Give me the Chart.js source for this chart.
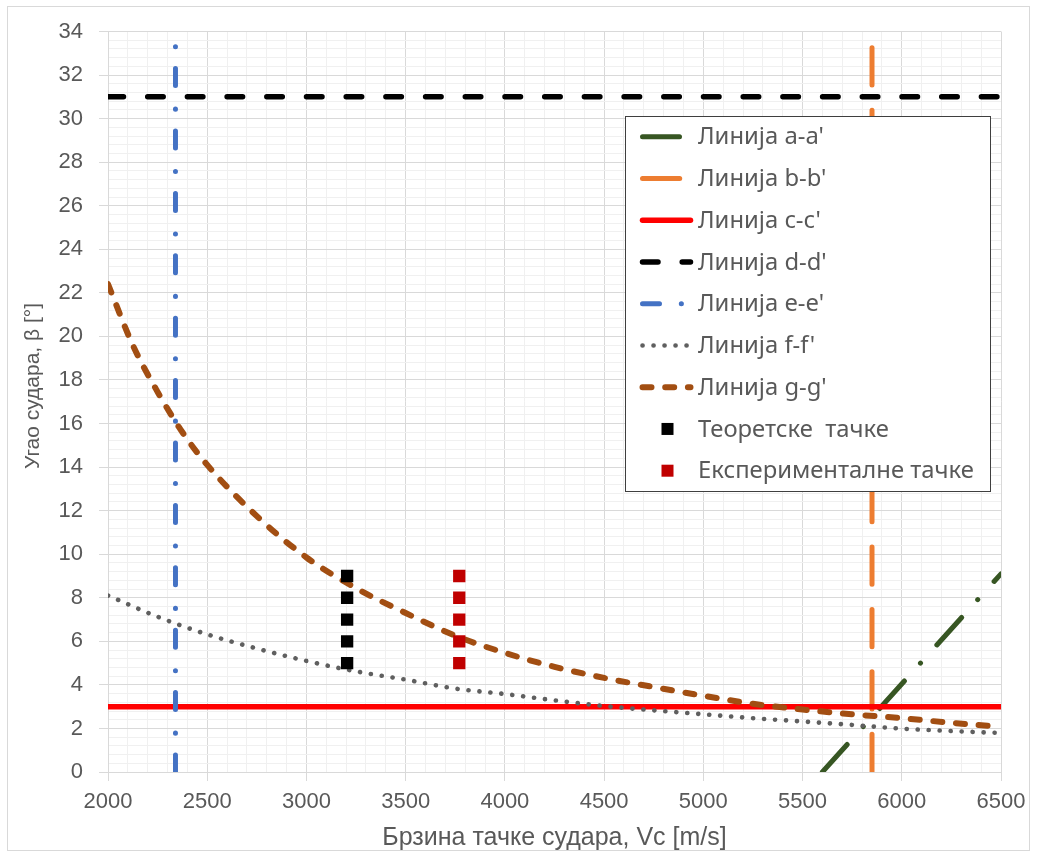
<!DOCTYPE html>
<html>
<head>
<meta charset="utf-8">
<script src="https://cdn.jsdelivr.net/npm/chart.js@4.4.1/dist/chart.umd.min.js"></script>
<style>
  html, body { margin: 0; padding: 0; background: #ffffff; }
  #wrap { width: 1037px; height: 857px; }
</style>
</head>
<body>
<div id="wrap"><canvas id="c" width="1037" height="857"></canvas></div>
<script>
// ---- data ----
const seriesNames = ["Линија a-a'", "Линија b-b'", "Линија c-c'", "Линија d-d'", "Линија e-e'", "Линија f-f'", "Линија g-g'", "Теоретске  тачке", "Експерименталне тачке"];
const xTitle = 'Брзина тачке судара, Vc [m/s]';
const yTitle = 'Угао судара, β [°]';

const aSpeed = [5600, 6500];
const aAngle = [0, 9.1];
const bSpeed = [5850, 5850];
const bAngle = [33.25, 0];
const cSpeed = [2000, 6500];
const cAngle = [3, 3];
const dSpeed = [2000, 6500];
const dAngle = [31, 31];
const eSpeed = [2340, 2340];
const eAngle = [0, 33.35];

const fSpeed = [2000, 2250, 2500, 2750, 3000, 3250, 3500, 3750, 4000, 4250, 4500, 4750, 5000, 5250, 5500, 5750, 6000, 6250, 6500];
const fAngle = [8.1, 7.13, 6.32, 5.67, 5.1, 4.62, 4.24, 3.83, 3.58, 3.29, 3.03, 2.83, 2.65, 2.47, 2.32, 2.16, 1.99, 1.88, 1.79];

const gSpeed = [2000, 2125, 2250, 2375, 2500, 2750, 3000, 3250, 3500, 3750, 4000, 4250, 4500, 4750, 5000, 5250, 5500, 5750, 6000, 6250, 6500];
const gAngle = [22.4, 19.6, 17.45, 15.6, 14.1, 11.75, 9.85, 8.44, 7.3, 6.26, 5.47, 4.83, 4.32, 3.9, 3.5, 3.13, 2.87, 2.65, 2.47, 2.26, 2.08];

const theorySpeed = [3205, 3205, 3205, 3205, 3205];
const theoryAngle = [5, 6, 7, 8, 9];
const expSpeed = [3770, 3770, 3770, 3770, 3770];
const expAngle = [5, 6, 7, 8, 9];

const xMin = 2000, xMax = 6500, xMajor = 500, xMinor = 100;
const yMin = 0, yMax = 34, yMajor = 2, yMinor = 0.4;

// ---- helpers ----
const pts = (xs, ys) => xs.map((x, i) => ({ x: x, y: ys[i] }));
const isMajor = (v, step) => Math.abs(v / step - Math.round(v / step)) < 1e-6;
const TEXT = '#595959';
const MAJOR_GRID = '#d9d9d9';
const MINOR_GRID = '#f0f0f0';

function lineDs(i, xs, ys, color, width, dash, extra) {
  return Object.assign({
    label: seriesNames[i],
    data: pts(xs, ys),
    showLine: true,
    borderColor: color,
    backgroundColor: color,
    borderWidth: width,
    borderDash: dash,
    borderCapStyle: 'round',
    borderJoinStyle: 'round',
    pointRadius: 0,
    pointHoverRadius: 0,
    fill: false,
    order: 20 - i
  }, extra || {});
}

const datasets = [
  lineDs(0, aSpeed, aAngle, '#375623', 5, [37, 24, 0.1, 24.4]),
  lineDs(1, bSpeed, bAngle, '#ED7D31', 5, [37.2, 25.2]),
  lineDs(2, cSpeed, cAngle, '#FF0000', 5.5, []),
  lineDs(3, dSpeed, dAngle, '#000000', 5.5, [15.5, 24.2]),
  lineDs(4, eSpeed, eAngle, '#4472C4', 5, [17, 21.8, 0.1, 23.5]),
  lineDs(5, fSpeed, fAngle, '#5f5f5f', 4.6, [0.1, 10.9], { cubicInterpolationMode: 'monotone' }),
  lineDs(6, gSpeed, gAngle, '#A24E12', 6, [9, 13.7], { cubicInterpolationMode: 'monotone' }),
  {
    label: seriesNames[7], data: pts(theorySpeed, theoryAngle), showLine: false,
    pointStyle: 'rect', pointRadius: 8.7, pointHoverRadius: 8.7, pointBorderWidth: 0,
    pointBackgroundColor: '#000000', backgroundColor: '#000000', borderColor: '#000000', order: 2
  },
  {
    label: seriesNames[8], data: pts(expSpeed, expAngle), showLine: false,
    pointStyle: 'rect', pointRadius: 8.7, pointHoverRadius: 8.7, pointBorderWidth: 0,
    pointBackgroundColor: '#C00000', backgroundColor: '#C00000', borderColor: '#C00000', order: 1
  }
];

// outer frame
const framePlugin = {
  id: 'frame',
  beforeDraw(chart) {
    const ctx = chart.ctx;
    ctx.save();
    ctx.fillStyle = '#ffffff';
    ctx.fillRect(0, 0, chart.width, chart.height);
    ctx.strokeStyle = '#d9d9d9';
    ctx.lineWidth = 1;
    ctx.strokeRect(7.5, 6.5, 1022, 844);
    ctx.restore();
  }
};

// y-axis title placed as in the reference (slightly above the plot centre)
const yTitlePlugin = {
  id: 'yTitle',
  afterDraw(chart) {
    const ctx = chart.ctx;
    ctx.save();
    ctx.translate(33, 386);
    ctx.rotate(-Math.PI / 2);
    ctx.font = '21px "Liberation Sans", Arial, sans-serif';
    ctx.fillStyle = TEXT;
    ctx.textAlign = 'center';
    ctx.textBaseline = 'middle';
    ctx.fillText(yTitle, 0, 0);
    ctx.restore();
  }
};

// legend drawn inside the plot area, like the reference
const boxLegend = {
  id: 'boxLegend',
  afterDraw(chart) {
    const ctx = chart.ctx;
    const bx = 625.5, by = 116.5, bw = 365, bh = 375;
    ctx.save();
    ctx.fillStyle = '#ffffff';
    ctx.fillRect(bx, by, bw, bh);
    ctx.strokeStyle = '#3f3f3f';
    ctx.lineWidth = 1;
    ctx.strokeRect(bx, by, bw, bh);

    // fit font so the longest label spans like the reference
    let fs = 20;
    ctx.font = fs + 'px "Noto Sans", "Open Sans", sans-serif';
    const w = ctx.measureText(seriesNames[8]).width;
    fs = fs * 276 / w;
    ctx.font = fs + 'px "Noto Sans", "Open Sans", sans-serif';

    const row0 = 136.7, rowStep = 41.75;
    chart.data.datasets.forEach((ds, i) => {
      const cy = row0 + i * rowStep;
      if (ds.showLine) {
        ctx.save();
        ctx.strokeStyle = ds.borderColor;
        ctx.lineWidth = ds.borderWidth;
        ctx.lineCap = 'round';
        ctx.setLineDash(ds.borderDash || []);
        ctx.beginPath();
        ctx.moveTo(642.5, cy);
        ctx.lineTo(690.5, cy);
        ctx.stroke();
        ctx.restore();
      } else {
        ctx.fillStyle = ds.pointBackgroundColor;
        ctx.fillRect(661.5, cy - 6, 12, 12);
      }
      ctx.fillStyle = TEXT;
      ctx.textAlign = 'left';
      ctx.textBaseline = 'middle';
      ctx.fillText(ds.label, 698, cy + 1);
    });
    ctx.restore();
  }
};

const tickFont = { family: '"Liberation Sans", Arial, sans-serif', size: 22 };

new Chart(document.getElementById('c'), {
  type: 'scatter',
  data: { datasets: datasets },
  plugins: [framePlugin, yTitlePlugin, boxLegend],
  options: {
    responsive: false,
    devicePixelRatio: 1,
    animation: false,
    events: [],
    layout: { padding: { left: 0, right: 36, top: 31.5, bottom: 0 } },
    plugins: {
      legend: { display: false },
      tooltip: { enabled: false },
      title: { display: false }
    },
    scales: {
      x: {
        type: 'linear',
        min: xMin, max: xMax,
        afterFit(scale) { scale.height = 85; },
        border: { display: true, color: MAJOR_GRID, width: 1 },
        grid: {
          color: (c) => isMajor(c.tick.value, xMajor) ? MAJOR_GRID : MINOR_GRID,
          tickColor: (c) => isMajor(c.tick.value, xMajor) ? MAJOR_GRID : 'rgba(0,0,0,0)',
          tickLength: 9,
          lineWidth: 1
        },
        ticks: {
          stepSize: xMinor,
          autoSkip: false,
          maxRotation: 0, minRotation: 0,
          padding: 8,
          color: TEXT,
          font: tickFont,
          callback: (v) => isMajor(v, xMajor) ? String(v) : ''
        },
        title: {
          display: true,
          text: xTitle,
          color: TEXT,
          font: { family: '"Liberation Sans", Arial, sans-serif', size: 25 },
          padding: { top: 0, bottom: 4 }
        }
      },
      y: {
        type: 'linear',
        min: yMin, max: yMax,
        afterFit(scale) { scale.width = 108; },
        border: { display: true, color: MAJOR_GRID, width: 1 },
        grid: {
          color: (c) => isMajor(c.tick.value, yMajor) ? MAJOR_GRID : MINOR_GRID,
          tickColor: (c) => isMajor(c.tick.value, yMajor) ? MAJOR_GRID : 'rgba(0,0,0,0)',
          tickLength: 9,
          lineWidth: 1
        },
        ticks: {
          stepSize: yMinor,
          autoSkip: false,
          padding: 16,
          color: TEXT,
          font: tickFont,
          callback: (v) => isMajor(v, yMajor) ? String(Math.round(v)) : ''
        },
        title: { display: false }
      }
    }
  }
});
</script>
</body>
</html>
